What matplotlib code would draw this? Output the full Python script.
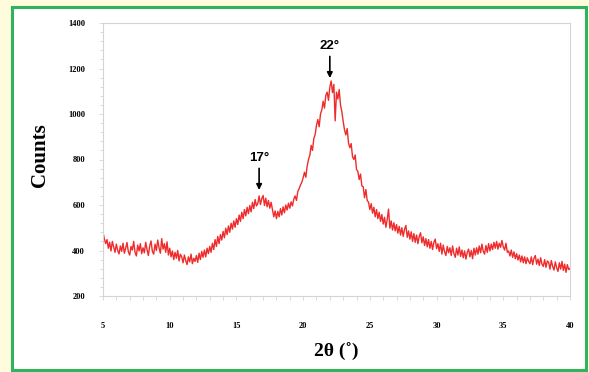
import numpy as np
import matplotlib
matplotlib.use("Agg")
import matplotlib.pyplot as plt
from matplotlib.patches import Rectangle
from matplotlib.ticker import MultipleLocator

# XRD scan: 2-theta from 5 to 40 degrees, 0.1 degree step
two_theta_start = 5.0
two_theta_step = 0.1
counts = [
    480, 452, 430, 448, 410, 436, 398, 440, 415, 392,   # 5
    428, 400, 385, 420, 396, 432, 388, 410, 435, 394,   # 6
    380, 418, 402, 440, 392, 376, 424, 398, 430, 386,   # 7
    412, 390, 436, 404, 378, 420, 442, 396, 384, 428,   # 8
    400, 446, 412, 388, 452, 406, 430, 392, 438, 380,   # 9
    410, 372, 398, 360, 392, 366, 400, 354, 384, 372,   # 10
    346, 380, 356, 338, 372, 350, 384, 342, 366, 352,   # 11
    378, 348, 388, 360, 396, 370, 402, 372, 410, 386,   # 12
    418, 392, 432, 404, 448, 418, 462, 430, 470, 446,   # 13
    484, 456, 498, 470, 508, 480, 520, 494, 530, 502,   # 14
    540, 514, 556, 528, 568, 540, 580, 552, 590, 562,   # 15
    598, 570, 612, 584, 624, 596, 606, 640, 602, 628,   # 16
    642, 598, 630, 592, 620, 586, 612, 580, 548, 574,   # 17
    540, 572, 548, 584, 556, 592, 566, 600, 578, 608,   # 18
    586, 614, 596, 626, 640, 620, 660, 672, 688, 700,   # 19
    720, 744, 722, 770, 800, 818, 862, 840, 892, 910,   # 20
    950, 976, 944, 1000, 1018, 1056, 1026, 1082, 1096, 1060,  # 21
    1118, 1145, 1094, 1130, 970, 1096, 1066, 1108, 1040, 1010,  # 22
    968, 930, 908, 936, 872, 852, 870, 812, 800, 820,   # 23
    756, 748, 712, 736, 684, 680, 632, 668, 620, 612,   # 24
    580, 606, 564, 590, 548, 580, 540, 568, 528, 558,   # 25
    516, 546, 502, 536, 582, 498, 530, 490, 522, 486,   # 26
    514, 476, 506, 468, 500, 462, 494, 510, 458, 486,   # 27
    450, 482, 440, 474, 436, 468, 430, 462, 478, 434,   # 28
    460, 422, 452, 416, 448, 410, 440, 404, 436, 450,   # 29
    408, 430, 396, 432, 384, 424, 394, 378, 418, 390,   # 30
    412, 378, 420, 386, 370, 410, 380, 416, 374, 402,   # 31
    368, 398, 362, 392, 406, 372, 400, 364, 410, 380,   # 32
    412, 384, 420, 390, 428, 396, 384, 422, 392, 430,   # 33
    398, 428, 404, 436, 410, 440, 406, 432, 414, 444,   # 34
    416, 402, 432, 392, 398, 376, 402, 370, 394, 364,   # 35
    386, 358, 380, 350, 376, 346, 372, 342, 368, 352,   # 36
    342, 372, 338, 366, 378, 340, 362, 334, 368, 340,   # 37
    330, 360, 326, 354, 348, 318, 356, 330, 314, 350,   # 38
    324, 308, 346, 318, 352, 312, 340, 304, 338, 316,   # 39
    322,                                                # 40
]
two_theta = two_theta_start + two_theta_step * np.arange(len(counts))

x_ticks = [5, 10, 15, 20, 25, 30, 35, 40]
y_ticks = [200, 400, 600, 800, 1000, 1200, 1400]

peak_positions = [16.7, 22.0]
peak_labels = ["17°", "22°"]
peak_tips = [666, 1158]

fig = plt.figure(figsize=(5.89, 3.72), dpi=100)
fig.patch.set_facecolor("#fefcdc")

# framed white panel behind the axes
frame = Rectangle((12 / 589, 2 / 372), 574 / 589, 363 / 372,
                  transform=fig.transFigure, facecolor="white",
                  edgecolor="#2fb35c", linewidth=2.2, zorder=-10)
fig.patches.append(frame)

ax = fig.add_axes([103 / 589, 1 - 296 / 372, 467 / 589, 273 / 372])
ax.set_facecolor("white")
ax.plot(two_theta, counts, color="#ef2b2b", linewidth=1.0)

ax.set_xlim(5, 40)
ax.set_ylim(200, 1400)
ax.set_xticks(x_ticks)
ax.set_yticks(y_ticks)
ax.xaxis.set_minor_locator(MultipleLocator(1))
ax.yaxis.set_minor_locator(MultipleLocator(40))

for s in ax.spines.values():
    s.set_color("#d4d4d4")
    s.set_linewidth(0.8)

tick_font = dict(family="Liberation Serif", weight="bold", size=6)
ax.set_xticklabels([str(v) for v in x_ticks], **tick_font)
ax.set_yticklabels([str(v) for v in y_ticks], **tick_font)
ax.tick_params(axis="both", which="both", direction="out", color="#d4d4d4",
               width=0.6)
ax.tick_params(axis="x", which="major", length=3, pad=16)
ax.tick_params(axis="x", which="minor", length=3)
ax.tick_params(axis="y", which="major", length=3, pad=10)
ax.tick_params(axis="y", which="minor", length=2)

fig.text(40 / 589, 1 - 155 / 372, "Counts", rotation=90, ha="center",
         va="center", family="Liberation Serif", weight="bold", size=15)
fig.text(336 / 589, 1 - 352 / 372, "2θ (˚)", ha="center", va="center",
         family="Liberation Serif", weight="bold", size=14)

for pos, lab, tip in zip(peak_positions, peak_labels, peak_tips):
    ax.annotate("", xy=(pos, tip), xytext=(pos, tip + 95),
                arrowprops=dict(arrowstyle="-|>", color="black", lw=1.2,
                                mutation_scale=8, shrinkA=0, shrinkB=0))
    ax.text(pos, tip + 140, lab, ha="center", va="center",
            family="Liberation Sans", weight="bold", size=9.5)

fig.savefig("out.png", dpi=100, facecolor=fig.get_facecolor())
